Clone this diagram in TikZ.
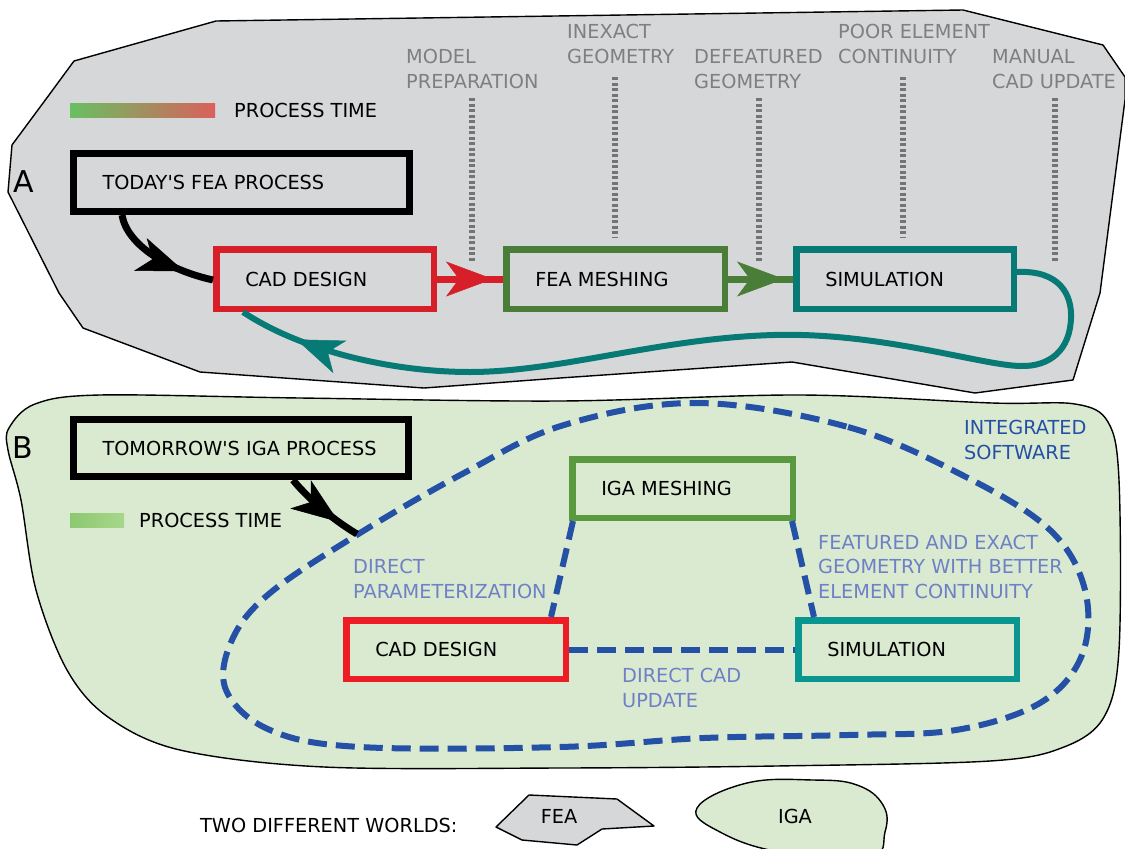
\documentclass[tikz,border=0pt]{standalone}
\usepackage{fontspec}
\usetikzlibrary{arrows.meta,decorations.markings}
\newfontfamily\dejavu{DejaVu Sans}
\newcommand\myfont{\dejavu\fontsize{19.3}{24.5}\selectfont}
\newcommand\bigfont{\dejavu\fontsize{30}{34}\selectfont}
\definecolor{grayA}{HTML}{D6D7D9}
\definecolor{greenB}{HTML}{D9EAD1}
\definecolor{redA}{HTML}{D71F2A}
\definecolor{redB}{HTML}{EE1C24}
\definecolor{grnA}{HTML}{4A7D37}
\definecolor{grnB}{HTML}{5B993F}
\definecolor{tealA}{HTML}{087A76}
\definecolor{tealB}{HTML}{0A9690}
\definecolor{dblue}{HTML}{2450A5}
\definecolor{lblue}{HTML}{6E80C6}
\definecolor{lgray}{HTML}{7F7F7F}
\definecolor{dgray}{HTML}{747474}
\definecolor{barAl}{HTML}{68C062}
\definecolor{barAr}{HTML}{DA605C}
\definecolor{barBl}{HTML}{8CC86F}
\definecolor{barBr}{HTML}{A8D78B}
\begin{document}
\begin{tikzpicture}[x=1pt,y=-1pt,
  pbox/.style={line width=6.5pt, inner xsep=29pt, inner ysep=0pt, font=\myfont, text=black},
  blackbox/.style={pbox, draw=black, line width=7pt},
  plainlabel/.style={anchor=base west, inner sep=0pt, font=\myfont, text=black},
  glabel/.style={anchor=base west, inner sep=0pt, font=\myfont, text=lgray, align=left},
  blabel/.style={anchor=base west, inner sep=0pt, font=\myfont, text=lblue, align=left},
  dotline/.style={draw=dgray, line width=6pt, dash pattern=on 3pt off 2.5pt},
  world/.style={draw=black, line width=1.4pt, line join=round},
  igaline/.style={draw=dblue, line width=6pt, dash pattern=on 19pt off 9pt},
  tipmark/.style={postaction={decorate}, decoration={markings, mark=at position #1 with {\arrow{Stealth[length=47pt,width=35pt,inset=13pt,line width=0.5pt]}}}},
]
\useasboundingbox (0,0) rectangle (1125,849);
\fill[white] (0,0) rectangle (1125,849);

% region A
\draw[world, fill=grayA] (216,21) -- (963,10) -- (1103,45) -- (1125,77) -- (1125,100) -- (1100,293) -- (1073,380) -- (975,393) -- (792,362) -- (560,378) -- (424,388) -- (200,372) -- (83,328) -- (59,293) -- (8,192) -- (12,145) -- (49,95) -- (74,61) -- cycle;

% region B
\draw[world, fill=greenB] plot[smooth cycle, tension=0.55] coordinates {(9,428) (35,404) (100,395) (300,398) (560,401) (800,395) (992,403) (1075,404) (1108,422) (1119,480) (1119,650) (1104,717) (1064,747) (990,761) (776,766) (561,768) (324,767) (180,750) (108,717) (67,670) (36,590) (21,500) (8,450)};

% labels A / B
\node[anchor=base west, inner sep=0pt, font=\bigfont] (labA) at (13,192) {A};
\node[anchor=base west, inner sep=0pt, font=\bigfont] (labB) at (12,458) {B};

% process time bars
\shade[left color=barAl, right color=barAr] (70,103) rectangle (215,117);
\node[plainlabel] (ptA) at (234,117) {PROCESS TIME};
\shade[left color=barBl, right color=barBr] (70,513) rectangle (124,527);
\node[plainlabel] (ptB) at (139,527) {PROCESS TIME};

% gray labels and dotted lines (base = last line)
\node[glabel] (lmodel) at (406,88) {MODEL\\PREPARATION};
\node[glabel] (linex) at (567,63) {INEXACT\\GEOMETRY};
\node[glabel] (ldefeat) at (694,88) {DEFEATURED\\GEOMETRY};
\node[glabel] (lpoor) at (838,63) {POOR ELEMENT\\CONTINUITY};
\node[glabel] (lmanual) at (992,88) {MANUAL\\CAD UPDATE};
\draw[dotline] (472,98) -- (472,262);
\draw[dotline] (615,77) -- (615,238);
\draw[dotline] (759,98) -- (759,262);
\draw[dotline] (903,77) -- (903,238);
\draw[dotline] (1055,98) -- (1055,262);

% boxes A
\node[blackbox, minimum width=336pt, minimum height=58pt] (today) at (241.5,182.5) {\makebox[278pt][l]{TODAY\textquotesingle S FEA PROCESS}};
\node[pbox, draw=redA, minimum width=217.5pt, minimum height=59.5pt] (cadA) at (325,279) {\makebox[159.5pt][l]{CAD DESIGN}};
\node[pbox, draw=grnA, minimum width=218.5pt, minimum height=59.5pt] (feaA) at (615.5,279) {\makebox[160.5pt][l]{FEA MESHING}};
\node[pbox, draw=tealA, minimum width=217.5pt, minimum height=59.5pt] (simA) at (905,279) {\makebox[159.5pt][l]{SIMULATION}};

% connectors A
\draw[black, line width=7pt, tipmark=-30pt] (122,0 |- today.south) .. controls (127,245) and (168,270) .. ([yshift=-1pt]cadA.west);
\draw[redA, line width=7pt, tipmark=-10pt] (cadA.east) -- (feaA.west);
\draw[grnA, line width=7pt, tipmark=-9pt] (feaA.east) -- (simA.west);
\draw[tealA, line width=6pt, tipmark=-60pt] ([yshift=7pt]simA.east) .. controls (1060,270) and (1072,295) .. (1071,318) .. controls (1070,350) and (1050,367) .. (1020,366) .. controls (980,365) and (880,332) .. (774,335) .. controls (660,338) and (560,372) .. (470,372) .. controls (390,372) and (300,350) .. (243,0 |- cadA.south);

% integrated software outline
\draw[igaline] plot[smooth cycle, tension=0.6] coordinates {(697,403) (848,427) (966,477) (1050,530) (1085,590) (1082,655) (1040,703) (956,730) (848,735) (704,738) (560,747) (360,747) (270,730) (226,690) (232,640) (270,593) (360,533) (464,473) (564,425)};
\coordinate (hit) at (357,534);

% boxes B
\node[blackbox, minimum width=335pt, minimum height=57pt] (tomorrow) at (241,448) {\makebox[277pt][l]{TOMORROW\textquotesingle S IGA PROCESS}};
\node[pbox, draw=grnB, minimum width=220.5pt, minimum height=58.5pt] (igaB) at (682.5,488.5) {\makebox[162.5pt][l]{IGA MESHING}};
\node[pbox, draw=redB, minimum width=219.5pt, minimum height=58.5pt] (cadB) at (456,649.5) {\makebox[161.5pt][l]{CAD DESIGN}};
\node[pbox, draw=tealB, minimum width=218.5pt, minimum height=58.5pt] (simB) at (907.5,649.5) {\makebox[160.5pt][l]{SIMULATION}};

% connectors B
\draw[black, line width=7pt, tipmark=-22pt] (293,0 |- tomorrow.south) .. controls (305,495) and (330,518) .. (hit);
\draw[igaline] (573,0 |- igaB.south) -- (551,0 |- cadB.north);
\draw[igaline] (792,0 |- igaB.south) -- (814,0 |- simB.north);
\draw[igaline] (cadB.east) -- (simB.west);

% blue labels (base = last line)
\node[blabel] (ldirect) at (353,598) {DIRECT\\PARAMETERIZATION};
\node[blabel] (lfeat) at (818,598) {FEATURED AND EXACT\\GEOMETRY WITH BETTER\\ELEMENT CONTINUITY};
\node[blabel] (lupdate) at (622,707) {DIRECT CAD\\UPDATE};
\node[blabel, text=dblue] (lint) at (964,459) {INTEGRATED\\SOFTWARE};

% legend
\node[plainlabel] (worlds) at (200,832) {TWO DIFFERENT WORLDS:};
\draw[world, fill=grayA] (496,827) -- (529,795) -- (617,799) -- (654,826) -- (602,829) -- (577,845) -- (522,840) -- cycle;
\node[font=\myfont, inner sep=0pt] (fea) at (559,816) {FEA};
\draw[world, fill=greenB] plot[smooth cycle, tension=0.7] coordinates {(697,808) (747,783) (813,780) (857,785) (883,805) (885,832) (868,858) (780,852) (720,832)};
\node[font=\myfont, inner sep=0pt] (iga) at (795,816) {IGA};
\end{tikzpicture}
\end{document}
